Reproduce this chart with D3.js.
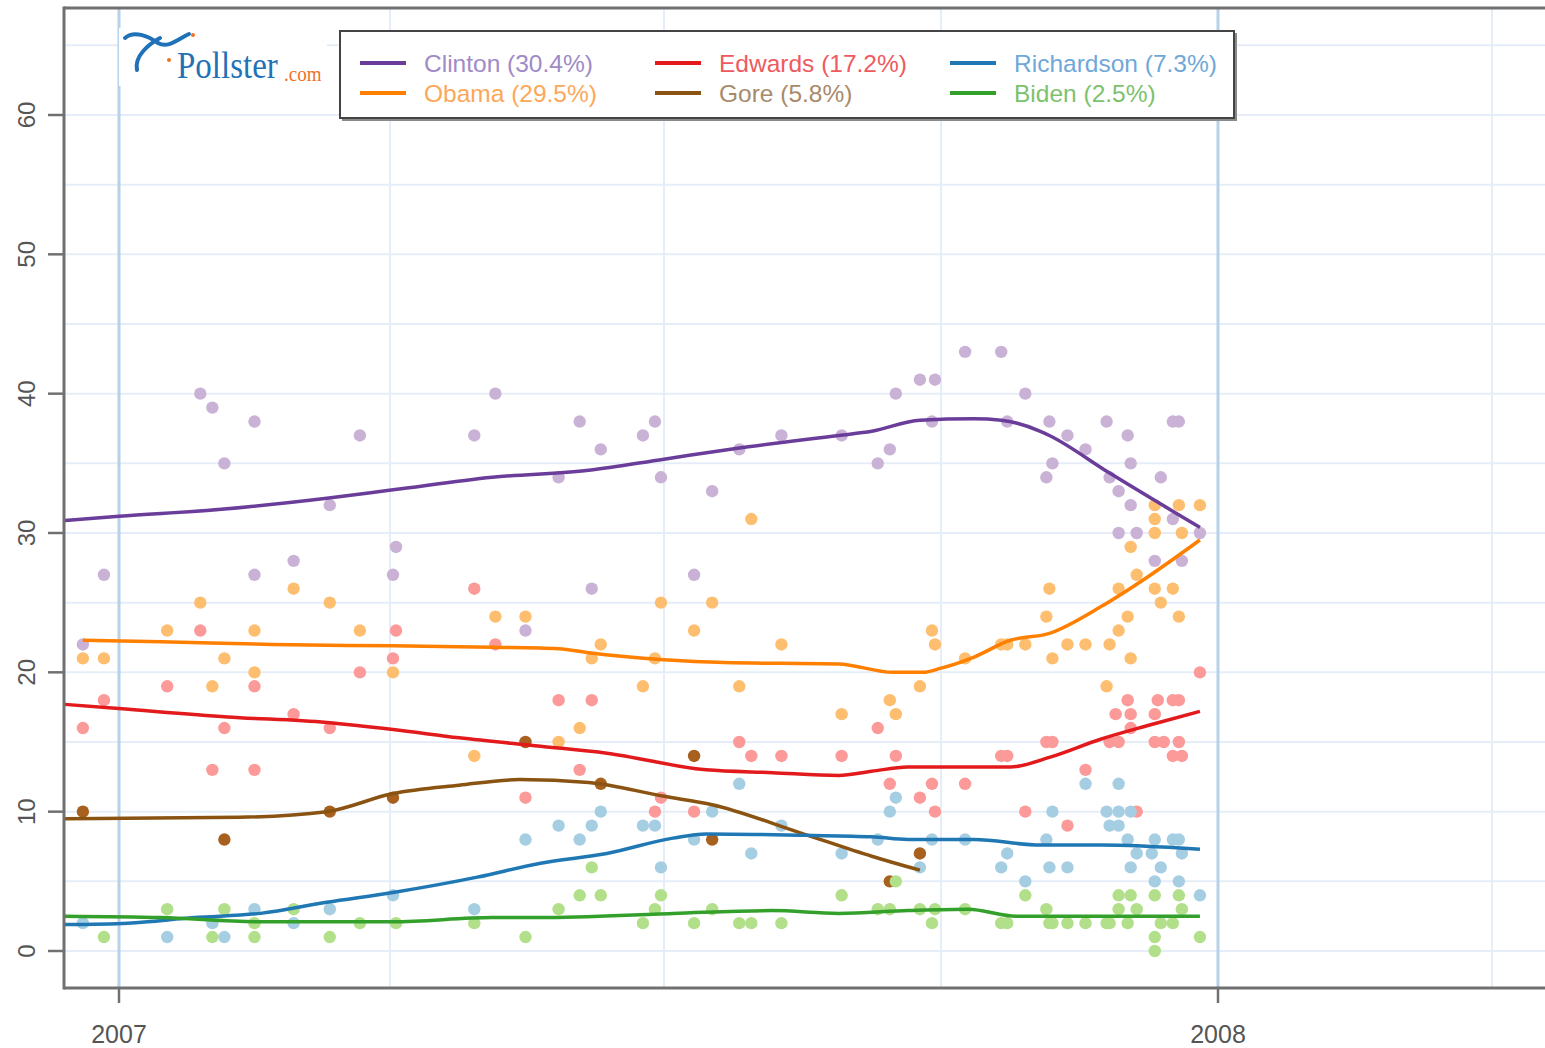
<!DOCTYPE html>
<html>
<head>
<meta charset="utf-8">
<script src="https://cdn.jsdelivr.net/npm/d3@7"></script>
<style>
  html, body { margin: 0; padding: 0; background: #fff; }
  svg { display: block; font-family: "Liberation Sans", Arial, sans-serif; }
</style>
</head>
<body>
<svg id="chart" width="1545" height="1048"></svg>
<script>
// ---------------- DATA ----------------
const candidates = ["Clinton", "Obama", "Edwards", "Gore", "Richardson", "Biden"];
const legendLabels = ["Clinton (30.4%)", "Obama (29.5%)", "Edwards (17.2%)", "Gore (5.8%)", "Richardson (7.3%)", "Biden (2.5%)"];
const yTicks = [0, 10, 20, 30, 40, 50, 60];
const xTickLabels = ["2007", "2008"];

// polls: [days since 2007-01-01, percent]
const clintonPolls = [[-12,22],[-5,27],[27,40],[31,39],[35,35],[45,38],[45,27],[58,28],[70,32],[80,37],[91,27],[92,29],[118,37],[125,40],[135,23],[146,34],[153,38],[157,26],[160,36],[174,37],[178,38],[180,34],[191,27],[197,33],[206,36],[220,37],[240,37],[252,35],[256,36],[258,40],[266,41],[271,41],[270,38],[281,43],[293,43],[295,38],[301,40],[309,38],[310,35],[308,34],[315,37],[321,36],[328,38],[329,34],[332,33],[336,32],[335,37],[336,35],[346,34],[332,30],[338,30],[350,38],[352,38],[344,28],[353,28],[350,31],[359,30]];
const obamaPolls = [[-12,21],[-5,21],[16,23],[27,25],[31,19],[35,21],[45,23],[45,20],[58,26],[70,25],[80,23],[91,20],[118,14],[125,24],[135,24],[146,15],[153,16],[160,22],[157,21],[174,19],[178,21],[180,25],[191,23],[197,25],[206,19],[210,31],[220,22],[240,17],[256,18],[258,17],[266,19],[270,23],[271,22],[281,21],[293,22],[295,22],[301,22],[308,24],[309,26],[310,21],[315,22],[321,22],[328,19],[329,22],[332,26],[332,23],[335,24],[336,21],[336,29],[338,27],[344,30],[344,31],[346,25],[344,26],[350,26],[352,24],[352,32],[353,30],[359,32],[344,32]];
const edwardsPolls = [[-12,16],[-5,18],[16,19],[27,23],[31,13],[35,16],[45,19],[45,13],[58,17],[70,16],[80,20],[92,23],[91,21],[118,26],[125,22],[135,11],[146,18],[153,13],[157,18],[178,10],[180,11],[191,10],[206,15],[210,14],[220,14],[240,14],[252,16],[258,14],[256,12],[266,11],[270,12],[271,10],[281,12],[293,14],[295,14],[301,10],[308,15],[310,15],[315,9],[321,13],[329,15],[332,15],[331,17],[335,18],[336,17],[336,16],[338,10],[345,18],[344,17],[344,15],[347,15],[350,18],[352,18],[352,15],[350,14],[353,14],[359,20]];
const gorePolls = [[-12,10],[35,8],[70,10],[91,11],[135,15],[160,12],[191,14],[197,8],[256,5],[266,7]];
const richardsonPolls = [[-12,2],[16,1],[31,2],[35,1],[45,3],[58,2],[70,3],[91,4],[118,3],[135,8],[146,9],[153,8],[157,9],[160,10],[174,9],[178,9],[180,6],[191,8],[197,10],[206,12],[210,7],[220,9],[240,7],[252,8],[256,10],[258,11],[266,6],[270,8],[281,8],[293,6],[295,7],[301,5],[308,8],[309,6],[310,10],[315,6],[321,12],[328,10],[329,9],[332,12],[332,10],[332,9],[335,8],[336,10],[336,6],[338,7],[343,7],[344,8],[344,5],[346,6],[350,8],[352,8],[352,5],[353,7],[359,4]];
const bidenPolls = [[-5,1],[16,3],[31,1],[35,3],[45,2],[45,1],[58,3],[70,1],[80,2],[92,2],[118,2],[135,1],[146,3],[153,4],[157,6],[160,4],[174,2],[178,3],[180,4],[191,2],[197,3],[206,2],[210,2],[220,2],[240,4],[252,3],[256,3],[258,5],[266,3],[270,2],[271,3],[281,3],[293,2],[295,2],[301,4],[308,3],[309,2],[310,2],[315,2],[321,2],[328,2],[329,2],[332,4],[332,3],[336,4],[335,2],[338,3],[344,4],[344,1],[344,0],[346,2],[350,2],[352,4],[353,3],[359,1]];

// trend estimates: [days since 2007-01-01, percent]
const clintonTrend = [[-18,30.9],[0,31.2],[34,31.7],[69,32.5],[91,33.1],[124,34.0],[156,34.5],[181,35.3],[206,36.1],[239,37.0],[250,37.3],[266,38.1],[284,38.2],[293,38.1],[306,37.3],[309,37.0],[329,34.3],[359,30.4]];
const obamaTrend = [[-12,22.3],[14,22.2],[51,22.0],[91,21.9],[124,21.8],[146,21.7],[156,21.4],[181,20.9],[201,20.7],[239,20.6],[257,20.0],[267,20.0],[273,20.3],[284,21.1],[296,22.3],[309,22.8],[326,24.7],[342,26.9],[359,29.5]];
const edwardsTrend = [[-18,17.7],[0,17.4],[36,16.8],[69,16.4],[91,15.9],[113,15.3],[140,14.7],[162,14.2],[195,13.0],[217,12.8],[239,12.6],[250,12.9],[262,13.2],[284,13.2],[296,13.2],[309,13.9],[326,15.2],[342,16.2],[359,17.2]];
const goreTrend = [[-18,9.5],[40,9.6],[69,10.0],[91,11.3],[113,11.9],[133,12.3],[156,12.1],[181,11.1],[197,10.5],[226,8.5],[250,6.8],[266,5.8]];
const richardsonTrend = [[-18,1.9],[3,2.0],[25,2.4],[47,2.7],[69,3.5],[91,4.2],[119,5.3],[140,6.3],[162,7.0],[184,8.1],[195,8.4],[228,8.3],[250,8.2],[262,8.0],[284,8.0],[306,7.6],[326,7.6],[359,7.3]];
const bidenTrend = [[-18,2.5],[14,2.4],[47,2.1],[91,2.1],[124,2.4],[140,2.4],[184,2.7],[217,2.9],[239,2.7],[262,2.9],[282,3.0],[298,2.5],[359,2.5]];

// ---------------- STYLE ----------------
const lineColors  = ["#6a3d9a", "#ff7f00", "#e31a1c", "#8a5312", "#1f78b4", "#33a02c"];
const pointColors = ["#cab2d6", "#fdbf6f", "#fb9a99", "#a8601e", "#a6cee3", "#b2df8a"];
const textColors  = ["#a08ac8", "#fca85a", "#ee5a60", "#a88a6a", "#6fa8d8", "#7cc26c"];

const polls = [clintonPolls, obamaPolls, edwardsPolls, gorePolls, richardsonPolls, bidenPolls];
const trends = [clintonTrend, obamaTrend, edwardsTrend, goreTrend, richardsonTrend, bidenTrend];

const base = new Date(Date.UTC(2007, 0, 1));
const toDate = d => d3.utcDay.offset(base, d);

const svg = d3.select("#chart");
const plot = { left: 64, right: 1545, top: 8, bottom: 988 };

const x = d3.scaleUtc()
  .domain([new Date(Date.UTC(2007, 0, 1)), new Date(Date.UTC(2008, 0, 1))])
  .range([119, 1218]);
const y = d3.scaleLinear().domain([0, 60]).range([951, 115]);

svg.append("defs").append("clipPath").attr("id", "clip")
  .append("rect").attr("x", plot.left).attr("y", plot.top)
  .attr("width", plot.right - plot.left).attr("height", plot.bottom - plot.top);

// grid
const grid = svg.append("g").attr("clip-path", "url(#clip)");
grid.selectAll("line.h").data(d3.range(0, 70, 5)).join("line")
  .attr("x1", plot.left).attr("x2", plot.right)
  .attr("y1", d => y(d)).attr("y2", d => y(d))
  .attr("stroke", "#e5eef8").attr("stroke-width", 2);
const quarters = d3.utcMonth.every(3).range(new Date(Date.UTC(2007, 0, 1)), new Date(Date.UTC(2008, 4, 1)));
grid.selectAll("line.v").data(quarters).join("line")
  .attr("x1", d => x(d)).attr("x2", d => x(d))
  .attr("y1", plot.top).attr("y2", plot.bottom)
  .attr("stroke", d => d.getUTCMonth() === 0 ? "#b6d2ea" : "#e5eef8")
  .attr("stroke-width", d => d.getUTCMonth() === 0 ? 3 : 2);

// points
const pts = svg.append("g").attr("clip-path", "url(#clip)");
polls.forEach((arr, i) => {
  pts.append("g").selectAll("circle").data(arr).join("circle")
    .attr("cx", d => x(toDate(d[0])))
    .attr("cy", d => y(d[1]))
    .attr("r", 6.2)
    .attr("fill", pointColors[i]);
});

// trend lines
const line = d3.line().x(d => x(toDate(d[0]))).y(d => y(d[1])).curve(d3.curveMonotoneX);
const lines = svg.append("g").attr("clip-path", "url(#clip)");
trends.forEach((arr, i) => {
  lines.append("path").datum(arr).attr("d", line)
    .attr("fill", "none").attr("stroke", lineColors[i])
    .attr("stroke-width", 3.5).attr("stroke-linejoin", "round");
});

// frame / axes
const axisColor = "#707070";
svg.append("line").attr("x1", plot.left).attr("x2", plot.left).attr("y1", plot.top - 1.5).attr("y2", plot.bottom + 1.5)
  .attr("stroke", axisColor).attr("stroke-width", 3);
svg.append("line").attr("x1", plot.left).attr("x2", plot.right).attr("y1", plot.top).attr("y2", plot.top)
  .attr("stroke", axisColor).attr("stroke-width", 3);
svg.append("line").attr("x1", plot.left).attr("x2", plot.right).attr("y1", plot.bottom).attr("y2", plot.bottom)
  .attr("stroke", axisColor).attr("stroke-width", 3);

// y axis ticks + labels
const yAxis = svg.append("g");
yAxis.selectAll("line").data(yTicks).join("line")
  .attr("x1", 48).attr("x2", plot.left).attr("y1", d => y(d)).attr("y2", d => y(d))
  .attr("stroke", axisColor).attr("stroke-width", 2.5);
yAxis.selectAll("text").data(yTicks).join("text")
  .attr("transform", d => `translate(35,${y(d)}) rotate(-90)`)
  .attr("text-anchor", "middle")
  .attr("font-size", 24).attr("fill", "#555")
  .text(d => d);

// x axis ticks + labels
const yearDates = xTickLabels.map(s => new Date(Date.UTC(+s, 0, 1)));
const xAxis = svg.append("g");
xAxis.selectAll("line").data(yearDates).join("line")
  .attr("x1", d => x(d)).attr("x2", d => x(d)).attr("y1", plot.bottom).attr("y2", 1003)
  .attr("stroke", axisColor).attr("stroke-width", 2.5);
xAxis.selectAll("text").data(xTickLabels).join("text")
  .attr("x", (d, i) => x(yearDates[i])).attr("y", 1043)
  .attr("text-anchor", "middle").attr("font-size", 25).attr("fill", "#555")
  .text(d => d);

// logo
const logo = svg.append("g");
logo.append("rect").attr("x", 119).attr("y", 28).attr("width", 208).attr("height", 58).attr("fill", "#fff");
logo.append("path").attr("d", "M125,38 C134,30 148,36 158,43 C168,49 178,39 189,34")
  .attr("fill", "none").attr("stroke", "#1f72b8").attr("stroke-width", 4).attr("stroke-linecap", "round");
logo.append("path").attr("d", "M160,38 C149,44 134,56 137,70")
  .attr("fill", "none").attr("stroke", "#1f72b8").attr("stroke-width", 4).attr("stroke-linecap", "round");
logo.append("circle").attr("cx", 193).attr("cy", 35).attr("r", 2).attr("fill", "#f07028");
logo.append("circle").attr("cx", 169).attr("cy", 60).attr("r", 2).attr("fill", "#f07028");
logo.append("text").attr("transform", "translate(177,78) scale(1,1.15)")
  .attr("font-family", "'Liberation Serif', 'DejaVu Serif', serif").attr("font-size", 33)
  .attr("fill", "#1f72b8").text("Pollster");
logo.append("text").attr("transform", "translate(284,81) scale(1,1.1)")
  .attr("font-family", "'Liberation Serif', 'DejaVu Serif', serif").attr("font-size", 19)
  .attr("fill", "#f07028").text(".com");

// legend
const legend = svg.append("g");
legend.append("rect").attr("x", 342).attr("y", 33).attr("width", 895).attr("height", 88).attr("fill", "#8a8a8a");
legend.append("rect").attr("x", 340).attr("y", 31).attr("width", 894).attr("height", 87)
  .attr("fill", "#fff").attr("stroke", "#444").attr("stroke-width", 2);
const colX = [360, 655, 950];
const rowY = [63, 93];
const items = legend.selectAll("g.item").data(candidates).join("g")
  .attr("transform", (d, i) => `translate(${colX[Math.floor(i / 2)]},${rowY[i % 2]})`);
items.append("line").attr("x1", 0).attr("x2", 46).attr("y1", 0).attr("y2", 0)
  .attr("stroke", (d, i) => lineColors[i]).attr("stroke-width", 4);
items.append("text").attr("x", 64).attr("y", 8.5)
  .attr("font-size", 24.5).attr("fill", (d, i) => textColors[i])
  .text((d, i) => legendLabels[i]);
</script>
</body>
</html>
